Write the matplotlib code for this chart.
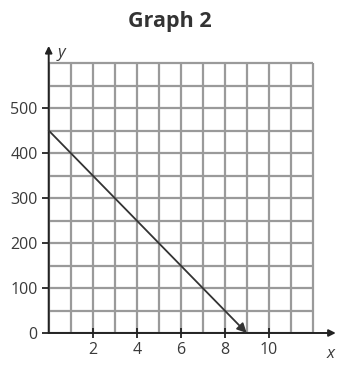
import matplotlib
matplotlib.use('Agg')
import matplotlib.pyplot as plt

plt.rcParams['font.family'] = ['Open Sans', 'DejaVu Sans']

line_x = [0, 9]
line_y = [450, 0]
grid_x = list(range(0, 13))
grid_y = list(range(0, 601, 50))
xticks = [2, 4, 6, 8, 10]
yticks = [0, 100, 200, 300, 400, 500]

fig = plt.figure(figsize=(3.46, 3.68), dpi=100)
W, H = 346, 368
# x=0 at px 48.7, 22 px per unit; y=0 at px 333 from top, 0.45 px per unit
xmin, xmax = 0, 13.4
ymin, ymax = 0, 640
ax = fig.add_axes([48.7 / W, 35 / H, (xmax - xmin) * 22 / W, (ymax - ymin) * 0.45 / H])
ax.set_xlim(xmin, xmax)
ax.set_ylim(ymin, ymax)

ax.vlines(grid_x, 0, 600, color='#9a9a9a', lw=1.6, zorder=1)
ax.hlines(grid_y, 0, 12, color='#9a9a9a', lw=1.6, zorder=1)

# axes with arrows
ax.annotate('', xy=(13.05, 0), xytext=(0, 0),
            arrowprops=dict(arrowstyle='-|>', color='#222222', lw=1.4,
                            mutation_scale=10, shrinkA=0, shrinkB=0), zorder=3)
ax.annotate('', xy=(0, 638), xytext=(0, 0),
            arrowprops=dict(arrowstyle='-|>', color='#222222', lw=1.4,
                            mutation_scale=10, shrinkA=0, shrinkB=0), zorder=3)

# the line
ax.annotate('', xy=(line_x[1], line_y[1]), xytext=(line_x[0], line_y[0]),
            arrowprops=dict(arrowstyle='-|>', color='#333333', lw=1.3,
                            mutation_scale=14, shrinkA=0, shrinkB=0), zorder=4)

for s in ax.spines.values():
    s.set_visible(False)

ax.set_xticks(xticks)
ax.set_yticks(yticks)
ax.tick_params(axis='x', direction='inout', length=7, width=1.3, color='#222222',
               labelsize=11.5, labelcolor='#3a3a3a', pad=3)
ax.tick_params(axis='y', direction='out', length=5, width=1.3, color='#222222',
               labelsize=11.5, labelcolor='#3a3a3a', pad=3)

ax.text(12.8, -30, 'x', style='italic', fontsize=12, color='#3a3a3a',
        ha='center', va='top')
ax.text(0.4, 622, 'y', style='italic', fontsize=12, color='#3a3a3a',
        ha='left', va='center')

fig.text(170 / W, 1 - 21 / H, 'Graph 2', fontsize=15.5, fontweight='bold',
         color='#333333', ha='center', va='center')

fig.savefig('out.png', dpi=100)
